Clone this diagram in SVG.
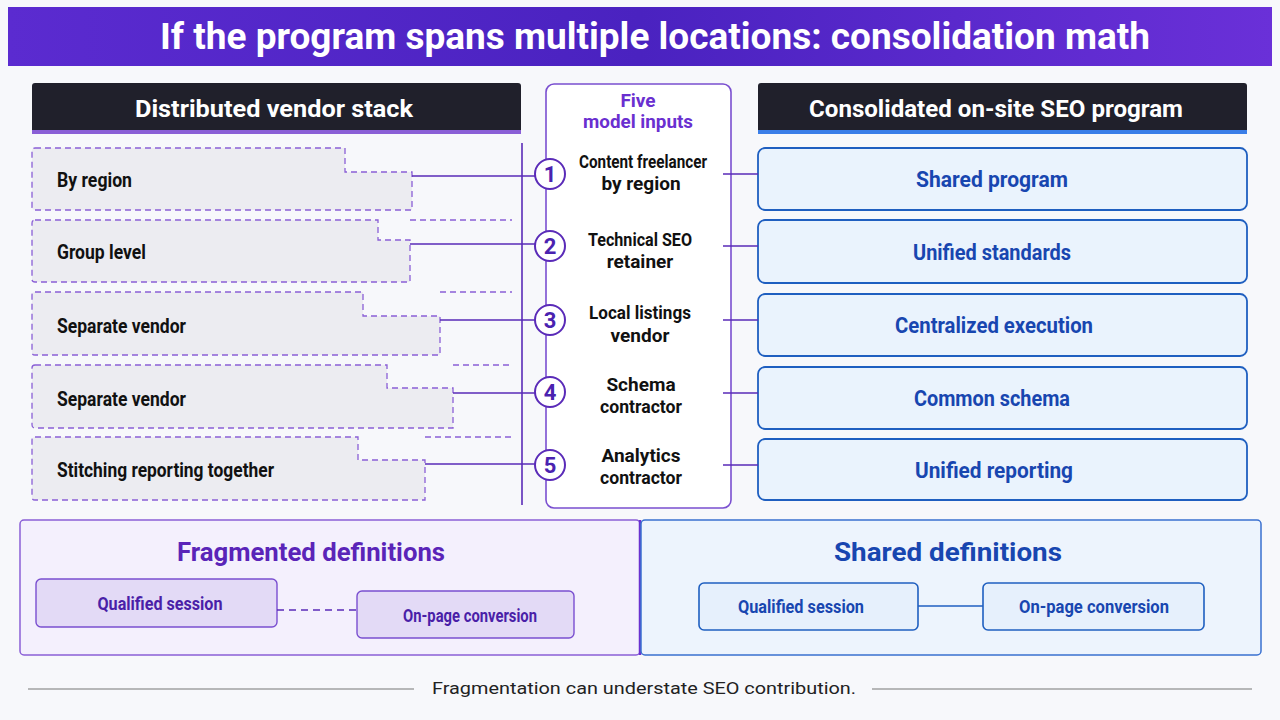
<svg xmlns="http://www.w3.org/2000/svg" width="1280" height="720" viewBox="0 0 1280 720">
<defs>
<linearGradient id="tg" x1="0" x2="1" y1="0" y2="0"><stop offset="0" stop-color="#5b2bd0"/><stop offset="0.5" stop-color="#4a22c0"/><stop offset="1" stop-color="#6a30d8"/></linearGradient>
<style>
text{font-family:Roboto,"Liberation Sans",sans-serif;font-weight:700}
.lb{fill:#ececf1;stroke:#8a5fd6;stroke-width:1.3;stroke-dasharray:6 4}
.lt{font-size:20px;fill:#111}
.c{fill:none;stroke:#5a2bb8;stroke-width:1.6}
.circ{fill:#fff;stroke:#5a2bb8;stroke-width:2}
.num{font-size:22px;fill:#4a22b0;text-anchor:middle}
.mt{font-size:19px;fill:#111;text-anchor:middle}
.rb{fill:#eaf3fd;stroke:#1f5fc0;stroke-width:1.8}
.rt{font-size:22px;fill:#1846b0;text-anchor:middle}
.hd{fill:#fff;font-size:24px;text-anchor:middle}
</style>
</defs>
<rect width="1280" height="720" fill="#f7f8fb"/>
<g id="title"><rect x="8" y="7" width="1264" height="59" fill="url(#tg)"/><text x="655" y="49" font-size="36" fill="#fff" text-anchor="middle" textLength="990" lengthAdjust="spacingAndGlyphs">If the program spans multiple locations: consolidation math</text></g>
<g id="hdr-left"><rect x="32" y="83" width="489" height="50" rx="3" fill="#20202b"/><rect x="32" y="130" width="489" height="4" fill="#8a5fd6"/><text class="hd" x="274" y="117" textLength="278" lengthAdjust="spacingAndGlyphs">Distributed vendor stack</text></g>
<g id="hdr-right"><rect x="758" y="83" width="489" height="50" rx="3" fill="#20202b"/><rect x="758" y="130" width="489" height="4" fill="#3a7ee8"/><text class="hd" x="996" y="117" textLength="374" lengthAdjust="spacingAndGlyphs">Consolidated on-site SEO program</text></g>
<g id="center"><rect x="546" y="84" width="185" height="424" rx="8" fill="#fff" stroke="#7a4fd0" stroke-width="1.6"/><text x="638" y="107" font-size="19" fill="#6a2fd0" text-anchor="middle">Five</text><text x="638" y="128" font-size="19" fill="#6a2fd0" text-anchor="middle" textLength="110" lengthAdjust="spacingAndGlyphs">model inputs</text></g>
<g id="l1"><path class="lb" d="M35 148H345V172H412V210H35Q32 210 32 207V151Q32 148 35 148Z"/><text class="lt" x="57" y="187" textLength="75" lengthAdjust="spacingAndGlyphs">By region</text></g>
<g id="l2"><path class="lb" d="M35 220H378V240H410V282H35Q32 282 32 279V223Q32 220 35 220Z"/><text class="lt" x="57" y="259" textLength="89" lengthAdjust="spacingAndGlyphs">Group level</text></g>
<g id="l3"><path class="lb" d="M35 292H363V316H440V355H35Q32 355 32 352V295Q32 292 35 292Z"/><text class="lt" x="57" y="333" textLength="129" lengthAdjust="spacingAndGlyphs">Separate vendor</text></g>
<g id="l4"><path class="lb" d="M35 365H387V388H453V428H35Q32 428 32 425V368Q32 365 35 365Z"/><text class="lt" x="57" y="406" textLength="129" lengthAdjust="spacingAndGlyphs">Separate vendor</text></g>
<g id="l5"><path class="lb" d="M35 437H358V460H425V500H35Q32 500 32 497V440Q32 437 35 437Z"/><text class="lt" x="57" y="477" textLength="217" lengthAdjust="spacingAndGlyphs">Stitching reporting together</text></g>
<g id="r1"><rect class="rb" x="758" y="148" width="489" height="62" rx="7"/><text class="rt" x="992" y="187" textLength="152" lengthAdjust="spacingAndGlyphs">Shared program</text></g>
<g id="r2"><rect class="rb" x="758" y="220" width="489" height="63" rx="7"/><text class="rt" x="992" y="260" textLength="158" lengthAdjust="spacingAndGlyphs">Unified standards</text></g>
<g id="r3"><rect class="rb" x="758" y="294" width="489" height="62" rx="7"/><text class="rt" x="994" y="333" textLength="198" lengthAdjust="spacingAndGlyphs">Centralized execution</text></g>
<g id="r4"><rect class="rb" x="758" y="367" width="489" height="62" rx="7"/><text class="rt" x="992" y="406" textLength="156" lengthAdjust="spacingAndGlyphs">Common schema</text></g>
<g id="r5"><rect class="rb" x="758" y="439" width="489" height="61" rx="7"/><text class="rt" x="994" y="478" textLength="158" lengthAdjust="spacingAndGlyphs">Unified reporting</text></g>
<g id="frag"><rect x="20" y="520" width="620" height="135" rx="4" fill="#f4f0fd" stroke="#8a5fd6" stroke-width="1.5"/><line x1="640" y1="520" x2="640" y2="655" stroke="#6a30d0" stroke-width="2.5"/><text x="311" y="561" font-size="26" fill="#5a24b8" text-anchor="middle" textLength="268" lengthAdjust="spacingAndGlyphs">Fragmented definitions</text></g>
<g id="fq"><rect x="36" y="579" width="241" height="48" rx="5" fill="#e3daf6" stroke="#7a4fd0" stroke-width="1.4"/><text x="160" y="610" font-size="19" fill="#4a1fa8" text-anchor="middle" textLength="125" lengthAdjust="spacingAndGlyphs">Qualified session</text></g>
<g id="fo"><rect x="357" y="591" width="217" height="47" rx="5" fill="#e3daf6" stroke="#7a4fd0" stroke-width="1.4"/><text x="470" y="622" font-size="19" fill="#4a1fa8" text-anchor="middle" textLength="134" lengthAdjust="spacingAndGlyphs">On-page conversion</text></g>
<g id="shared"><rect x="641" y="520" width="620" height="135" rx="4" fill="#edf4fd" stroke="#3a70d0" stroke-width="1.5"/><text x="948" y="561" font-size="26" fill="#1846b0" text-anchor="middle" textLength="228" lengthAdjust="spacingAndGlyphs">Shared definitions</text></g>
<g id="sq"><rect x="699" y="583" width="219" height="47" rx="5" fill="#e6f0fc" stroke="#1f5fc0" stroke-width="1.6"/><text x="801" y="613" font-size="19" fill="#1846b0" text-anchor="middle" textLength="126" lengthAdjust="spacingAndGlyphs">Qualified session</text></g>
<g id="so"><rect x="983" y="583" width="221" height="47" rx="5" fill="#e6f0fc" stroke="#1f5fc0" stroke-width="1.6"/><text x="1094" y="613" font-size="19" fill="#1846b0" text-anchor="middle" textLength="150" lengthAdjust="spacingAndGlyphs">On-page conversion</text></g>
<g id="connectors">
<line class="c" x1="522" y1="143" x2="522" y2="505"/>
<path class="c" d="M412 176H535M410 244H535M440 320H535M453 393H535M425 464H535"/>
<path class="c" d="M723 174H758M723 246H758M723 320H758M723 393H758M723 465H758"/>
<path class="lb" style="fill:none" d="M410 220H512M440 292H512M453 365H512M425 437H512"/>
<line x1="277" y1="610" x2="357" y2="610" stroke="#5a2bb8" stroke-width="1.6" stroke-dasharray="7 5"/>
<line x1="918" y1="606" x2="983" y2="606" stroke="#1f5fc0" stroke-width="1.6"/>
</g>
<g id="m1"><circle class="circ" cx="550" cy="174" r="15"/><text class="num" x="550" y="182">1</text><text class="mt" x="643" y="168" textLength="128" lengthAdjust="spacingAndGlyphs">Content freelancer</text><text class="mt" x="641" y="190">by region</text></g>
<g id="m2"><circle class="circ" cx="550" cy="246" r="15"/><text class="num" x="550" y="254">2</text><text class="mt" x="640" y="246" textLength="104" lengthAdjust="spacingAndGlyphs">Technical SEO</text><text class="mt" x="640" y="268">retainer</text></g>
<g id="m3"><circle class="circ" cx="550" cy="320" r="15"/><text class="num" x="550" y="328">3</text><text class="mt" x="640" y="319" textLength="102" lengthAdjust="spacingAndGlyphs">Local listings</text><text class="mt" x="640" y="342">vendor</text></g>
<g id="m4"><circle class="circ" cx="550" cy="392" r="15"/><text class="num" x="550" y="400">4</text><text class="mt" x="641" y="391">Schema</text><text class="mt" x="641" y="413" textLength="82" lengthAdjust="spacingAndGlyphs">contractor</text></g>
<g id="m5"><circle class="circ" cx="550" cy="465" r="15"/><text class="num" x="550" y="473">5</text><text class="mt" x="641" y="462">Analytics</text><text class="mt" x="641" y="484" textLength="82" lengthAdjust="spacingAndGlyphs">contractor</text></g>
<g id="footer"><line x1="28" y1="689" x2="414" y2="689" stroke="#777" stroke-width="1.2"/><line x1="872" y1="689" x2="1252" y2="689" stroke="#777" stroke-width="1.2"/><text x="644" y="694" font-size="17" fill="#222" text-anchor="middle" style="font-weight:400" textLength="424" lengthAdjust="spacingAndGlyphs">Fragmentation can understate SEO contribution.</text></g>
</svg>
